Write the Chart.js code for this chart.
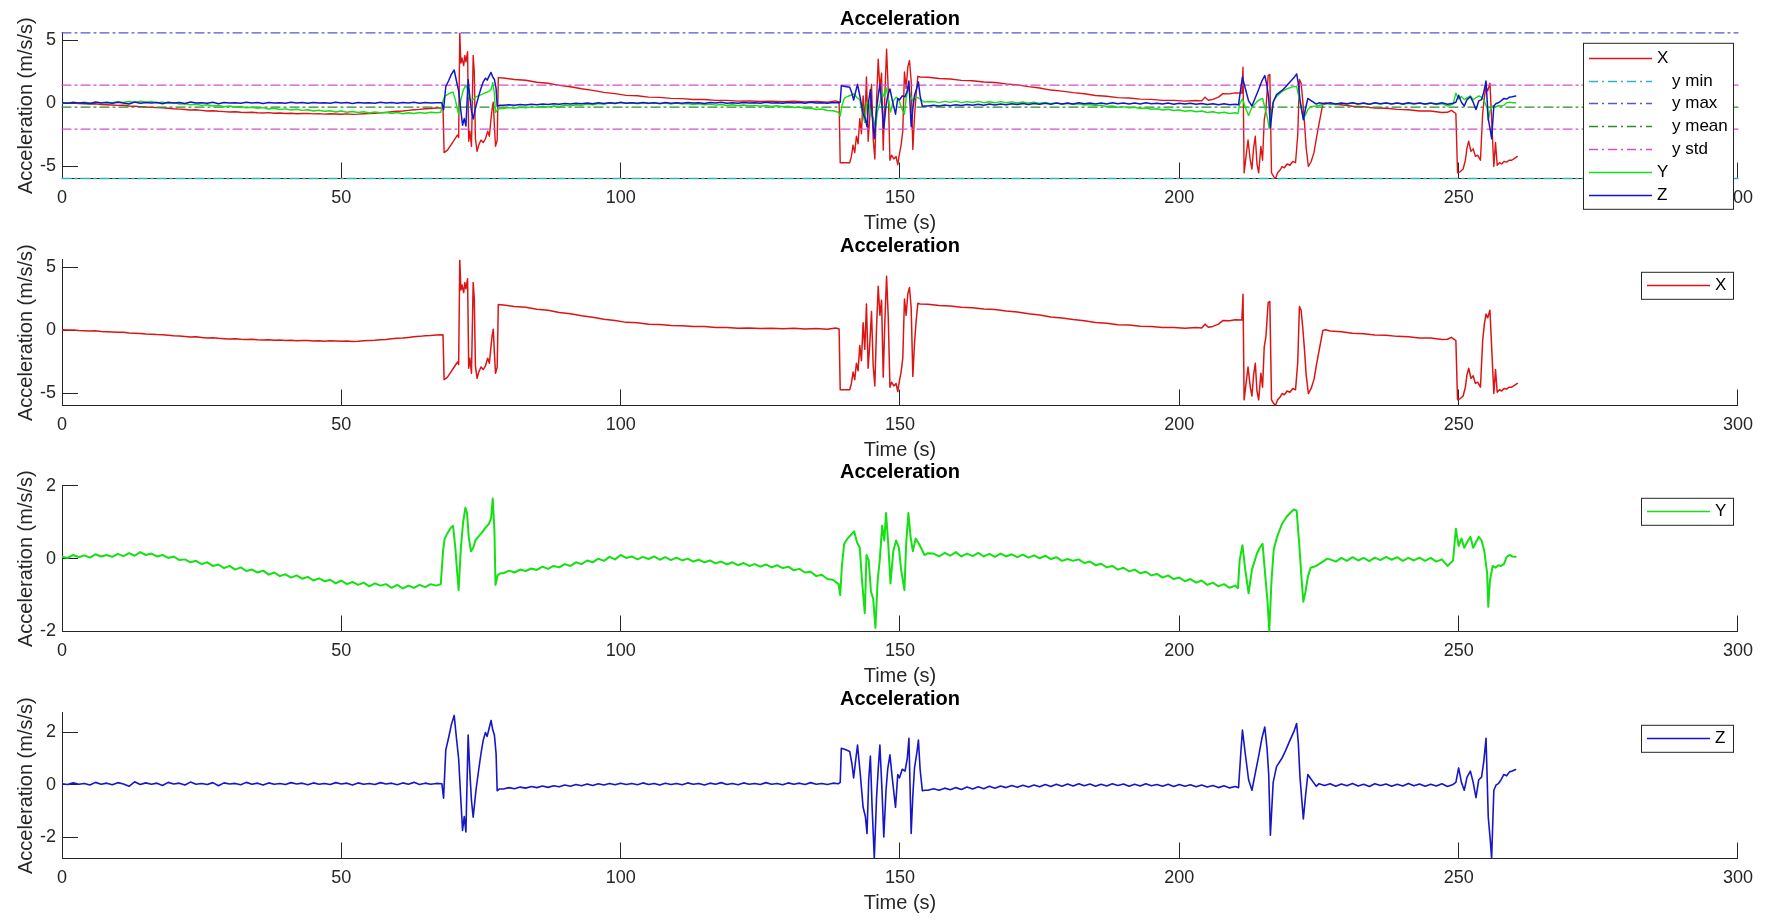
<!DOCTYPE html>
<html><head><meta charset="utf-8">
<script src="https://cdn.jsdelivr.net/npm/chart.js@4.4.1/dist/chart.umd.min.js"></script>
<style>
html,body{margin:0;padding:0;background:#fff;width:1778px;height:920px;overflow:hidden;}
canvas{position:absolute;left:0;}
</style></head><body>
<canvas id="c1" width="1778" height="250" style="top:0px"></canvas>
<canvas id="c2" width="1778" height="250" style="top:227px"></canvas>
<canvas id="c3" width="1778" height="250" style="top:453px"></canvas>
<canvas id="c4" width="1778" height="240" style="top:680px"></canvas>
<script>
// ---------------- DATA ----------------
const chartTitle = 'Acceleration';
const xAxisLabel = 'Time (s)';
const yAxisLabel = 'Acceleration (m/s/s)';
const timeTicks = [0, 50, 100, 150, 200, 250, 300];
const yTicksXY6 = [-5, 0, 5];
const yTicksY = [-2, 0, 2];
const yTicksZ = [-2, 0, 2];
const rangeTop = [-5.95, 5.6];
const rangeX = [-5.95, 5.6];
const rangeY = [-2, 2];
const rangeZ = [-2.8, 2.75];

// statistics lines of the top panel
const statMin = -5.95;
const statMax = 5.6;
const statMean = -0.29;
const statStdHigh = 1.45;
const statStdLow = -2.03;

// X acceleration: [time (s), value]
const accX = [
[0,0.05],[1,0.03],[2,0.04],[3,0],[4,-0.02],[5,-0.05],[6,-0.03],[7,-0.08],[8,-0.1],[9,-0.12],[10,-0.15],[11,-0.14],[12,-0.2],[13,-0.22],[14,-0.25],[15,-0.28],[16,-0.3],[17,-0.33],[18,-0.35],[19,-0.38],[20,-0.42],[21,-0.45],[22,-0.48],[23,-0.52],[24,-0.5],[25,-0.55],[26,-0.6],[27,-0.58],[28,-0.62],[29,-0.65],[30,-0.68],[31,-0.66],[32,-0.7],[33,-0.72],[34,-0.7],[35,-0.74],[36,-0.76],[37,-0.73],[38,-0.78],[39,-0.76],[40,-0.8],[41,-0.78],[42,-0.82],[43,-0.8],[44,-0.79],[45,-0.83],[46,-0.81],[47,-0.85],[48,-0.82],[49,-0.84],[50,-0.86],[51,-0.83],[52,-0.87],[53,-0.85],[54,-0.82],[55,-0.8],[56,-0.78],[57,-0.74],[58,-0.72],[59,-0.66],[60,-0.62],[61,-0.6],[62,-0.55],[63,-0.5],[64,-0.47],[65,-0.42],[66,-0.4],[67,-0.36],
[68.2,-0.35],[68.4,-3.9],[69,-3.7],[69.6,-3.3],[70.2,-2.9],[70.8,-2.5],[71.0,-2.7],[71.2,5.6],[71.4,3.2],[71.6,3.6],[71.9,3.0],[72.1,3.8],[72.3,3.3],[72.6,4.1],[72.8,-3.0],[73.0,-2.2],[73.3,-3.4],[73.6,3.8],[73.8,2.5],[74.0,-2.8],[74.3,-3.8],[74.6,-3.3],[75.0,-2.9],[75.4,-3.1],[75.8,-2.8],[76.2,-2.2],[76.5,-2.6],[76.8,-1.2],[77.0,-0.4],[77.2,0.1],[77.4,-1.8],[77.6,-3.4],[77.9,-2.9],[78.1,2.05],
[79,2.02],[81,1.9],[83,1.84],[85,1.68],[87,1.6],[89,1.43],[91,1.32],[93,1.16],[95,1.04],[97,0.88],[99,0.78],[101,0.64],[103,0.61],[105,0.5],[107,0.48],[109,0.4],[111,0.38],[113,0.31],[115,0.31],[117,0.24],[119,0.24],[121,0.18],[123,0.2],[125,0.15],[127,0.18],[129,0.13],[131,0.17],[133,0.11],[135,0.16],[137,0.1],[138.5,0.2],[139.1,0.12],
[139.3,-4.7],[141.0,-4.7],[141.3,-4.2],[141.6,-3.3],[141.9,-3.9],[142.2,-2.6],[142.5,-3.2],[142.8,-1.2],[143.1,-2.4],[143.4,0.6],[143.7,-1.5],[144.0,2.1],[144.3,-3.0],[144.6,-1.0],[144.9,1.5],[145.2,-2.8],[145.5,-4.4],[145.8,0.2],[146.1,3.5],[146.4,1.2],[146.7,2.4],[147.0,-3.7],[147.3,0.8],[147.6,4.3],[147.9,1.0],[148.2,-4.5],[148.5,-4.1],[148.9,-4.4],[149.3,-4.2],[149.6,-4.85],[149.9,-4.0],[150.2,-3.3],[150.5,-2.2],[150.8,2.5],[151.1,1.2],[151.4,2.9],[151.7,3.4],[152.0,1.8],[152.3,-3.65],[152.6,-1.0],[152.9,0.8],[153.2,2.15],[153.6,2.1],
[155,2.08],[157,1.98],[159,1.94],[161,1.83],[163,1.8],[165,1.7],[167,1.66],[169,1.55],[171,1.47],[173,1.33],[175,1.22],[177,1.06],[179,0.98],[181,0.86],[183,0.77],[185,0.63],[187,0.57],[189,0.46],[191,0.43],[193,0.34],[195,0.32],[197,0.24],[199,0.24],[201,0.18],[203,0.23],[204,0.2],[204.6,0.5],[205.2,0.25],[206,0.32],[207,0.5],[207.8,0.78],[209,0.76],[210,0.84],[211.2,0.82],
[211.4,2.87],[211.6,-5.5],[212.0,-4.0],[212.3,-2.9],[212.7,-4.5],[213.0,-5.2],[213.3,-3.5],[213.6,-2.6],[213.9,-4.8],[214.2,-5.5],[214.6,-3.4],[214.9,-4.5],[215.2,-1.3],[215.5,-0.5],[215.9,2.2],[216.2,2.3],[216.5,-5.5],[216.9,-5.8],[217.2,-5.95],[217.6,-5.5],[218.0,-5.3],[218.4,-5.0],[218.8,-5.1],[219.3,-4.8],[219.8,-4.9],[220.3,-4.6],[220.8,-4.7],[221.2,-2.5],[221.5,1.9],[221.8,1.6],[222.1,0.2],[222.4,-1.5],[222.7,-3.5],[223.1,-5.0],[223.6,-4.6],[224.1,-3.9],[224.6,-2.6],[225.1,-1.4],[225.7,0.0],
[226.2,0.05],[227,-0.05],[229,-0.1],[231,-0.22],[233,-0.26],[235,-0.37],[237,-0.38],[239,-0.47],[241,-0.5],[243,-0.6],[245,-0.6],[247,-0.72],[248,-0.7],[248.7,-0.55],[249.5,-0.8],
[249.8,-5.5],[250.3,-5.4],[250.8,-5.2],[251.2,-4.5],[251.5,-3.5],[251.8,-3.0],[252.2,-3.8],[252.6,-3.6],[253.0,-4.2],[253.4,-4.1],[253.9,-4.5],[254.3,-0.8],[254.6,0.5],[254.9,1.3],[255.2,1.0],[255.6,1.6],[256.0,-2.2],[256.3,-5.0],[256.6,-3.1],[256.9,-4.9],[257.3,-4.7],[257.7,-4.8],[258.1,-4.6],[258.6,-4.65],[259.0,-4.5],[259.5,-4.5],[260.0,-4.35],[260.5,-4.2]
];

// Y acceleration: [time (s), value]
const accY = [
[0,0.05],[1,0.02],[2,0.1],[3,0.04],[4,0.09],[5,0.03],[6,0.12],[7,0.06],[8,0.1],[9,0.05],[10,0.13],[11,0.07],[12,0.15],[13,0.08],[14,0.18],[15,0.1],[16,0.14],[17,0.06],[18,0.1],[19,0.02],[20,0.06],[21,-0.04],[22,-0.02],[23,-0.1],[24,-0.06],[25,-0.15],[26,-0.1],[27,-0.2],[28,-0.16],[29,-0.26],[30,-0.2],[31,-0.3],[32,-0.24],[33,-0.34],[34,-0.3],[35,-0.38],[36,-0.33],[37,-0.44],[38,-0.38],[39,-0.48],[40,-0.43],[41,-0.52],[42,-0.46],[43,-0.55],[44,-0.5],[45,-0.6],[46,-0.54],[47,-0.62],[48,-0.58],[49,-0.68],[50,-0.6],[51,-0.7],[52,-0.64],[53,-0.72],[54,-0.66],[55,-0.76],[56,-0.68],[57,-0.74],[58,-0.7],[59,-0.8],[60,-0.72],[61,-0.82],[62,-0.74],[63,-0.8],[64,-0.72],[65,-0.78],[66,-0.7],[67,-0.74],
[67.8,-0.7],[68.2,0.2],[68.5,0.55],[69.0,0.7],[69.6,0.85],[70.0,0.9],[70.4,0.3],[70.8,-0.5],[71.0,-0.86],[71.4,0.3],[71.8,1.0],[72.2,1.4],[72.5,1.25],[72.8,0.6],[73.2,0.2],[73.6,0.3],[74.0,0.5],[74.6,0.62],[75.2,0.72],[75.8,0.85],[76.4,0.95],[76.8,1.1],[77.1,1.65],[77.4,0.8],[77.6,-0.72],[78.0,-0.45],[78.5,-0.4],
[79,-0.4],[80,-0.33],[81,-0.38],[82,-0.3],[83,-0.34],[84,-0.27],[85,-0.31],[86,-0.22],[87,-0.28],[88,-0.2],[89,-0.24],[90,-0.15],[91,-0.2],[92,-0.1],[93,-0.15],[94,-0.05],[95,-0.1],[96,0.0],[97,-0.06],[98,0.05],[99,-0.02],[100,0.1],[101,0.02],[102,0.06],[103,-0.02],[104,0.05],[105,-0.01],[106,0.06],[107,-0.03],[108,0.04],[109,-0.04],[110,0.03],[111,-0.05],[112,0.0],[113,-0.08],[114,-0.03],[115,-0.1],[116,-0.05],[117,-0.13],[118,-0.08],[119,-0.16],[120,-0.1],[121,-0.18],[122,-0.12],[123,-0.2],[124,-0.15],[125,-0.22],[126,-0.16],[127,-0.24],[128,-0.18],[129,-0.26],[130,-0.22],[131,-0.32],[132,-0.28],[133,-0.38],[134,-0.36],[135,-0.48],[136,-0.44],[137,-0.56],[138,-0.58],[139,-0.7],
[139.3,-1.0],[139.6,-0.2],[140.0,0.4],[140.6,0.55],[141.2,0.65],[141.8,0.75],[142.3,0.45],[142.8,0.3],[143.2,-0.6],[143.7,-1.5],[144.0,0.1],[144.4,-0.05],[144.8,-0.9],[145.2,-1.1],[145.6,-1.9],[146.0,-0.6],[146.4,0.0],[146.8,0.9],[147.2,0.5],[147.5,1.25],[147.9,0.4],[148.3,-0.68],[148.8,0.2],[149.3,0.5],[149.8,0.3],[150.2,-0.3],[150.8,-0.86],[151.1,0.4],[151.5,1.25],[151.9,0.6],[152.3,0.2],[152.8,0.55],[153.4,0.41],[153.9,0.25],[154.4,0.1],[155,0.15],
[156,0.14],[157,0.06],[158,0.16],[159,0.08],[160,0.18],[161,0.06],[162,0.14],[163,0.07],[164,0.16],[165,0.06],[166,0.13],[167,0.05],[168,0.14],[169,0.06],[170,0.12],[171,0.04],[172,0.11],[173,0.03],[174,0.09],[175,0.01],[176,0.08],[177,-0.01],[178,0.04],[179,-0.06],[180,-0.01],[181,-0.06],[182,-0.02],[183,-0.12],[184,-0.08],[185,-0.18],[186,-0.14],[187,-0.24],[188,-0.2],[189,-0.3],[190,-0.25],[191,-0.35],[192,-0.3],[193,-0.4],[194,-0.36],[195,-0.46],[196,-0.42],[197,-0.52],[198,-0.46],[199,-0.56],[200,-0.52],[201,-0.62],[202,-0.56],[203,-0.66],[204,-0.6],[205,-0.72],[206,-0.66],[207,-0.76],[208,-0.7],[209,-0.8],[210,-0.74],
[210.5,-0.81],[210.8,-0.04],[211.3,0.37],[211.8,-0.3],[212.4,-0.95],[213.0,-0.3],[213.9,0.14],[214.4,0.3],[214.9,0.41],[215.4,-0.5],[215.8,-1.2],[216.1,-2.0],[216.5,-0.6],[216.9,0.25],[217.5,0.6],[218.4,0.96],[219.2,1.15],[220.0,1.28],[220.5,1.35],[221.0,1.32],[221.5,0.32],[221.9,-0.6],[222.2,-1.18],[222.6,-0.9],[223.0,-0.5],[223.5,-0.25],[224.5,-0.2],[225.5,-0.1],[226.5,0.0],
[227,-0.02],[228,-0.08],[229,0.02],[230,-0.06],[231,0.04],[232,-0.05],[233,0.02],[234,-0.07],[235,0.03],[236,-0.04],[237,0.05],[238,-0.03],[239,0.04],[240,-0.06],[241,0.02],[242,-0.05],[243,0.03],[244,-0.06],[245,0.02],[246,-0.08],[247,-0.02],[248,-0.2],[249,-0.05],
[249.5,0.82],[250.0,0.35],[250.5,0.55],[251.0,0.3],[251.5,0.45],[252.1,0.6],[252.6,0.3],[253.1,0.45],[253.6,0.6],[254.1,0.5],[254.6,0.2],[255.1,-0.4],[255.3,-1.32],[255.6,-0.6],[256.1,-0.2],[256.6,-0.25],[257.1,-0.18],[257.6,-0.2],[258.1,-0.15],[258.6,0.05],[259.1,0.1],[259.6,0.06],[260.2,0.05]
];

// Z acceleration: [time (s), value]
const accZ = [
[0,0.05],[1,0.02],[2,0.08],[3,0.03],[4,0.06],[5,0],[6,0.1],[7,0.03],[8,0.07],[9,0.01],[10,0.09],[11,0.04],[12,-0.05],[13,0.12],[14,0.02],[15,0.08],[16,0.03],[17,0.07],[18,-0.02],[19,0.1],[20,0.04],[21,0.07],[22,0],[23,0.11],[24,0.03],[25,0.06],[26,0.02],[27,0.09],[28,-0.03],[29,0.08],[30,0.04],[31,0.06],[32,0.01],[33,0.1],[34,0.03],[35,0.07],[36,0],[37,0.08],[38,0.03],[39,0.06],[40,0.02],[41,0.09],[42,0.04],[43,0.07],[44,0.01],[45,0.08],[46,0.03],[47,0.06],[48,0.02],[49,0.09],[50,0.04],[51,0.07],[52,0],[53,0.08],[54,0.03],[55,0.06],[56,0.02],[57,0.09],[58,0.04],[59,0.07],[60,0.01],[61,0.08],[62,0.03],[63,0.1],[64,0.02],[65,0.07],[66,0.03],[67,0.06],
[68.0,0.05],[68.3,-0.5],[68.7,1.34],[69.2,1.8],[69.7,2.3],[70.2,2.65],[70.6,1.8],[71.0,1.0],[71.4,-0.6],[71.7,-1.73],[72.0,-1.2],[72.3,-1.79],[72.7,1.9],[73.0,0.5],[73.3,-0.6],[73.6,-1.23],[74.1,-0.2],[74.6,0.6],[75.0,1.2],[75.4,1.71],[75.8,2.0],[76.1,1.85],[76.5,2.2],[76.8,2.46],[77.1,2.1],[77.4,1.9],[77.7,1.2],[77.9,-0.22],[78.3,-0.15],
[79,-0.15],[80,-0.1],[81,-0.14],[82,-0.08],[83,-0.12],[84,-0.06],[85,-0.1],[86,-0.04],[87,-0.09],[88,-0.03],[89,-0.07],[90,0],[91,-0.05],[92,0.02],[93,-0.03],[94,0.04],[95,-0.02],[96,0.05],[97,0],[98,0.06],[99,0.01],[100,0.07],[101,0.02],[102,0.06],[103,0.01],[104,0.08],[105,0.02],[106,0.06],[107,0],[108,0.07],[109,0.02],[110,0.06],[111,0.01],[112,0.08],[113,0.03],[114,0.06],[115,0],[116,0.07],[117,0.03],[118,0.09],[119,0.02],[120,0.06],[121,0.01],[122,0.08],[123,0.03],[124,0.06],[125,0.02],[126,0.09],[127,0.03],[128,0.06],[129,0.01],[130,0.08],[131,0.03],[132,0.07],[133,0.02],[134,0.09],[135,0.03],[136,0.06],[137,0.02],[138,0.07],[139,0.05],
[139.3,0.1],[139.5,1.4],[140.2,1.35],[141.0,1.28],[141.4,0.8],[141.7,0.27],[142.1,1.0],[142.4,1.52],[142.9,0.4],[143.4,-0.85],[143.8,-1.2],[144.1,-1.85],[144.4,0.2],[144.7,1.1],[145.0,-0.8],[145.4,-2.79],[145.8,-0.5],[146.1,0.6],[146.4,1.52],[146.8,-0.3],[147.1,-1.98],[147.5,-0.2],[147.8,0.6],[148.2,1.15],[148.6,0.3],[149.2,-0.85],[149.6,0.4],[149.9,0.27],[150.4,0.6],[150.9,0.53],[151.3,1.0],[151.6,1.78],[152.0,-1.85],[152.3,-0.4],[152.6,0.65],[153.0,1.2],[153.3,1.71],[153.6,0.6],[154.0,-0.22],[154.5,-0.2],
[155,-0.2],[156,-0.14],[157,-0.2],[158,-0.12],[159,-0.18],[160,-0.1],[161,-0.17],[162,-0.08],[163,-0.15],[164,-0.07],[165,-0.14],[166,-0.05],[167,-0.12],[168,-0.04],[169,-0.1],[170,-0.02],[171,-0.09],[172,-0.01],[173,-0.08],[174,0],[175,-0.07],[176,0.02],[177,-0.06],[178,0.03],[179,-0.05],[180,0.04],[181,-0.04],[182,0.05],[183,-0.03],[184,0.04],[185,-0.05],[186,0.03],[187,-0.04],[188,0.05],[189,-0.02],[190,0.04],[191,-0.05],[192,0.03],[193,-0.04],[194,0.05],[195,-0.03],[196,0.02],[197,-0.05],[198,0.03],[199,-0.06],[200,0.02],[201,-0.05],[202,0.01],[203,-0.07],[204,0],[205,-0.08],[206,-0.02],[207,-0.1],[208,-0.03],[209,-0.11],[210,-0.06],
[210.6,-0.1],[211.0,1.2],[211.3,2.09],[211.8,1.2],[212.4,0.2],[213.0,-0.2],[213.6,0.45],[214.2,1.1],[214.8,1.8],[215.3,2.21],[215.7,1.4],[216.0,0.4],[216.3,-1.91],[216.8,0.1],[217.4,0.7],[218.4,1.03],[219.0,1.3],[219.8,1.7],[220.5,2.03],[221.0,2.34],[221.3,1.6],[221.6,0.3],[222.2,-1.29],[222.6,-0.4],[223.0,0.4],[223.5,0.25],[224.0,0.1],[224.5,-0.05],[225.0,0.05],
[226,-0.02],[227,0.05],[228,-0.05],[229,0.04],[230,-0.03],[231,0.06],[232,-0.04],[233,0.03],[234,-0.06],[235,0.05],[236,-0.02],[237,0.04],[238,-0.05],[239,0.03],[240,-0.04],[241,0.06],[242,-0.03],[243,0.04],[244,-0.05],[245,0.03],[246,-0.04],[247,0.05],[248,-0.06],[249,0.02],
[249.5,0.1],[250.0,0.65],[250.5,0.1],[251.0,-0.2],[251.5,0.3],[252.1,0.53],[252.6,0.1],[253.1,-0.48],[253.6,0.2],[254.1,0.3],[254.5,0.9],[254.9,1.78],[255.3,-1.23],[255.7,-2.2],[255.9,-2.8],[256.3,-0.2],[256.7,0.0],[257.1,0.05],[257.6,0.2],[258.1,0.4],[258.6,0.35],[259.1,0.5],[259.6,0.53],[260.2,0.59]
];

// ---------------- STYLE ----------------
const FONT = "'Liberation Sans', Arial, Helvetica, sans-serif";
const AXIS = '#262626';
const colX = '#dc1414', colY = '#14e014', colZ = '#1616c8';
const colMin = '#30b4c4', colMax = '#5858c8', colMean = '#2e8b2e', colStd = '#d050d0';
const DASHDOT = [9, 4, 2, 4];

const pts = arr => arr.map(p => ({x: p[0], y: p[1]}));
const hline = v => [{x: 0, y: v}, {x: 300, y: v}];

function series(label, arr, color, order, width) {
  return {label, data: pts(arr), borderColor: color, backgroundColor: color, borderWidth: width || 1.2, pointRadius: 0, order, fill: false};
}
function refLine(label, v, color, order) {
  return {label, data: hline(v), borderColor: color, backgroundColor: color, borderWidth: 1.3, borderDash: DASHDOT, pointRadius: 0, order, clip: false, fill: false};
}

const boxLegend = {
  id: 'boxLegend',
  afterDraw(chart, args, o) {
    if (!o || !o.items) return;
    const ctx = chart.ctx;
    const top = chart.chartArea.top + o.top;
    ctx.save();
    ctx.fillStyle = '#fff';
    ctx.fillRect(o.left, top, o.width, o.height);
    ctx.strokeStyle = AXIS; ctx.lineWidth = 1; ctx.setLineDash([]);
    ctx.strokeRect(o.left + 0.5, top + 0.5, o.width, o.height);
    ctx.font = '17px ' + FONT;
    ctx.textBaseline = 'middle';
    ctx.textAlign = 'left';
    o.items.forEach((it, i) => {
      const ds = chart.data.datasets[it.ds];
      const y = Math.round(top + o.firstY + i * o.rowH) + 0.5;
      ctx.strokeStyle = ds.borderColor; ctx.lineWidth = Math.min(ds.borderWidth, 1.3);
      ctx.setLineDash(ds.borderDash || []);
      ctx.beginPath(); ctx.moveTo(o.lineX0, y); ctx.lineTo(o.lineX1, y); ctx.stroke();
      ctx.setLineDash([]);
      ctx.fillStyle = '#000';
      ctx.fillText(ds.label, o.textX + (it.indent || 0), y);
    });
    ctx.restore();
  }
};

const PLOT_TOP = 32, PLOT_H = 146.5;

function build(id, H, datasets, yRange, yTicks, legendOpts) {
  const xH = H - PLOT_TOP - PLOT_H;
  const timeTitleCenter = PLOT_TOP + PLOT_H + 45;
  return new Chart(document.getElementById(id), {
    type: 'line',
    data: {datasets},
    options: {
      responsive: false, animation: false, events: [],
      layout: {padding: {left: 0, right: 27, top: 0, bottom: 0}},
      plugins: {
        legend: {display: false}, tooltip: {enabled: false},
        title: {display: true, text: chartTitle, fullSize: false, color: '#000',
                font: {family: FONT, size: 20, weight: 'bold'}, padding: {top: 7, bottom: 1}},
        boxLegend: legendOpts
      },
      scales: {
        x: {type: 'linear', position: 'bottom', min: 0, max: 300,
            afterBuildTicks: s => { s.ticks = timeTicks.map(v => ({value: v})); },
            afterFit: s => { s.height = xH; },
            grid: {drawOnChartArea: false, drawTicks: true, tickLength: -16, color: AXIS, lineWidth: 1},
            border: {display: true, color: AXIS, width: 1},
            ticks: {padding: 25, autoSkip: false, maxRotation: 0, color: AXIS, font: {family: FONT, size: 18}},
            title: {display: true, text: xAxisLabel, color: AXIS, font: {family: FONT, size: 20},
                    padding: {top: 0, bottom: H - timeTitleCenter - 12}}},
        y: {type: 'linear', position: 'left', min: yRange[0], max: yRange[1],
            afterBuildTicks: s => { s.ticks = yTicks.map(v => ({value: v})); },
            afterFit: s => { s.width = 62; },
            grid: {drawOnChartArea: false, drawTicks: true, tickLength: -16, color: AXIS, lineWidth: 1},
            border: {display: true, color: AXIS, width: 1},
            ticks: {padding: 22, color: AXIS, font: {family: FONT, size: 18}},
            title: {display: true, text: yAxisLabel, color: AXIS, font: {family: FONT, size: 20},
                    padding: {top: 14, bottom: 0}}}
      },
      elements: {line: {tension: 0, borderJoinStyle: 'round', borderCapStyle: 'round'}, point: {radius: 0}}
    },
    plugins: [boxLegend]
  });
}

const singleLegend = (ds) => ({left: 1641, top: 12, width: 92, height: 27, firstY: 13.5, rowH: 0,
  lineX0: 1647, lineX1: 1710, textX: 1715, items: [{ds}]});

// Panel 1: all axes + statistics
build('c1', 250, [
  series('X', accX, colX, 9, 1.4),
  refLine('y min', statMin, colMin, 5),
  refLine('y max', statMax, colMax, 4),
  refLine('y mean', statMean, colMean, 3),
  refLine('y std', statStdHigh, colStd, 2),
  refLine('y std', statStdLow, colStd, 2),
  series('Y', accY, colY, 1, 1.4),
  series('Z', accZ, colZ, 0, 1.5)
], rangeTop, yTicksXY6, {
  left: 1583, top: 10, width: 150, height: 166, firstY: 15, rowH: 22.8,
  lineX0: 1589, lineX1: 1652, textX: 1657,
  items: [{ds: 0}, {ds: 1, indent: 15}, {ds: 2, indent: 15}, {ds: 3, indent: 15}, {ds: 4, indent: 15}, {ds: 6}, {ds: 7}]
});

build('c2', 250, [series('X', accX, colX, 0, 1.5)], rangeX, yTicksXY6, singleLegend(0));
build('c3', 250, [series('Y', accY, colY, 0, 2.0)], rangeY, yTicksY, singleLegend(0));
build('c4', 240, [series('Z', accZ, colZ, 0, 1.6)], rangeZ, yTicksZ, singleLegend(0));
</script></body></html>
